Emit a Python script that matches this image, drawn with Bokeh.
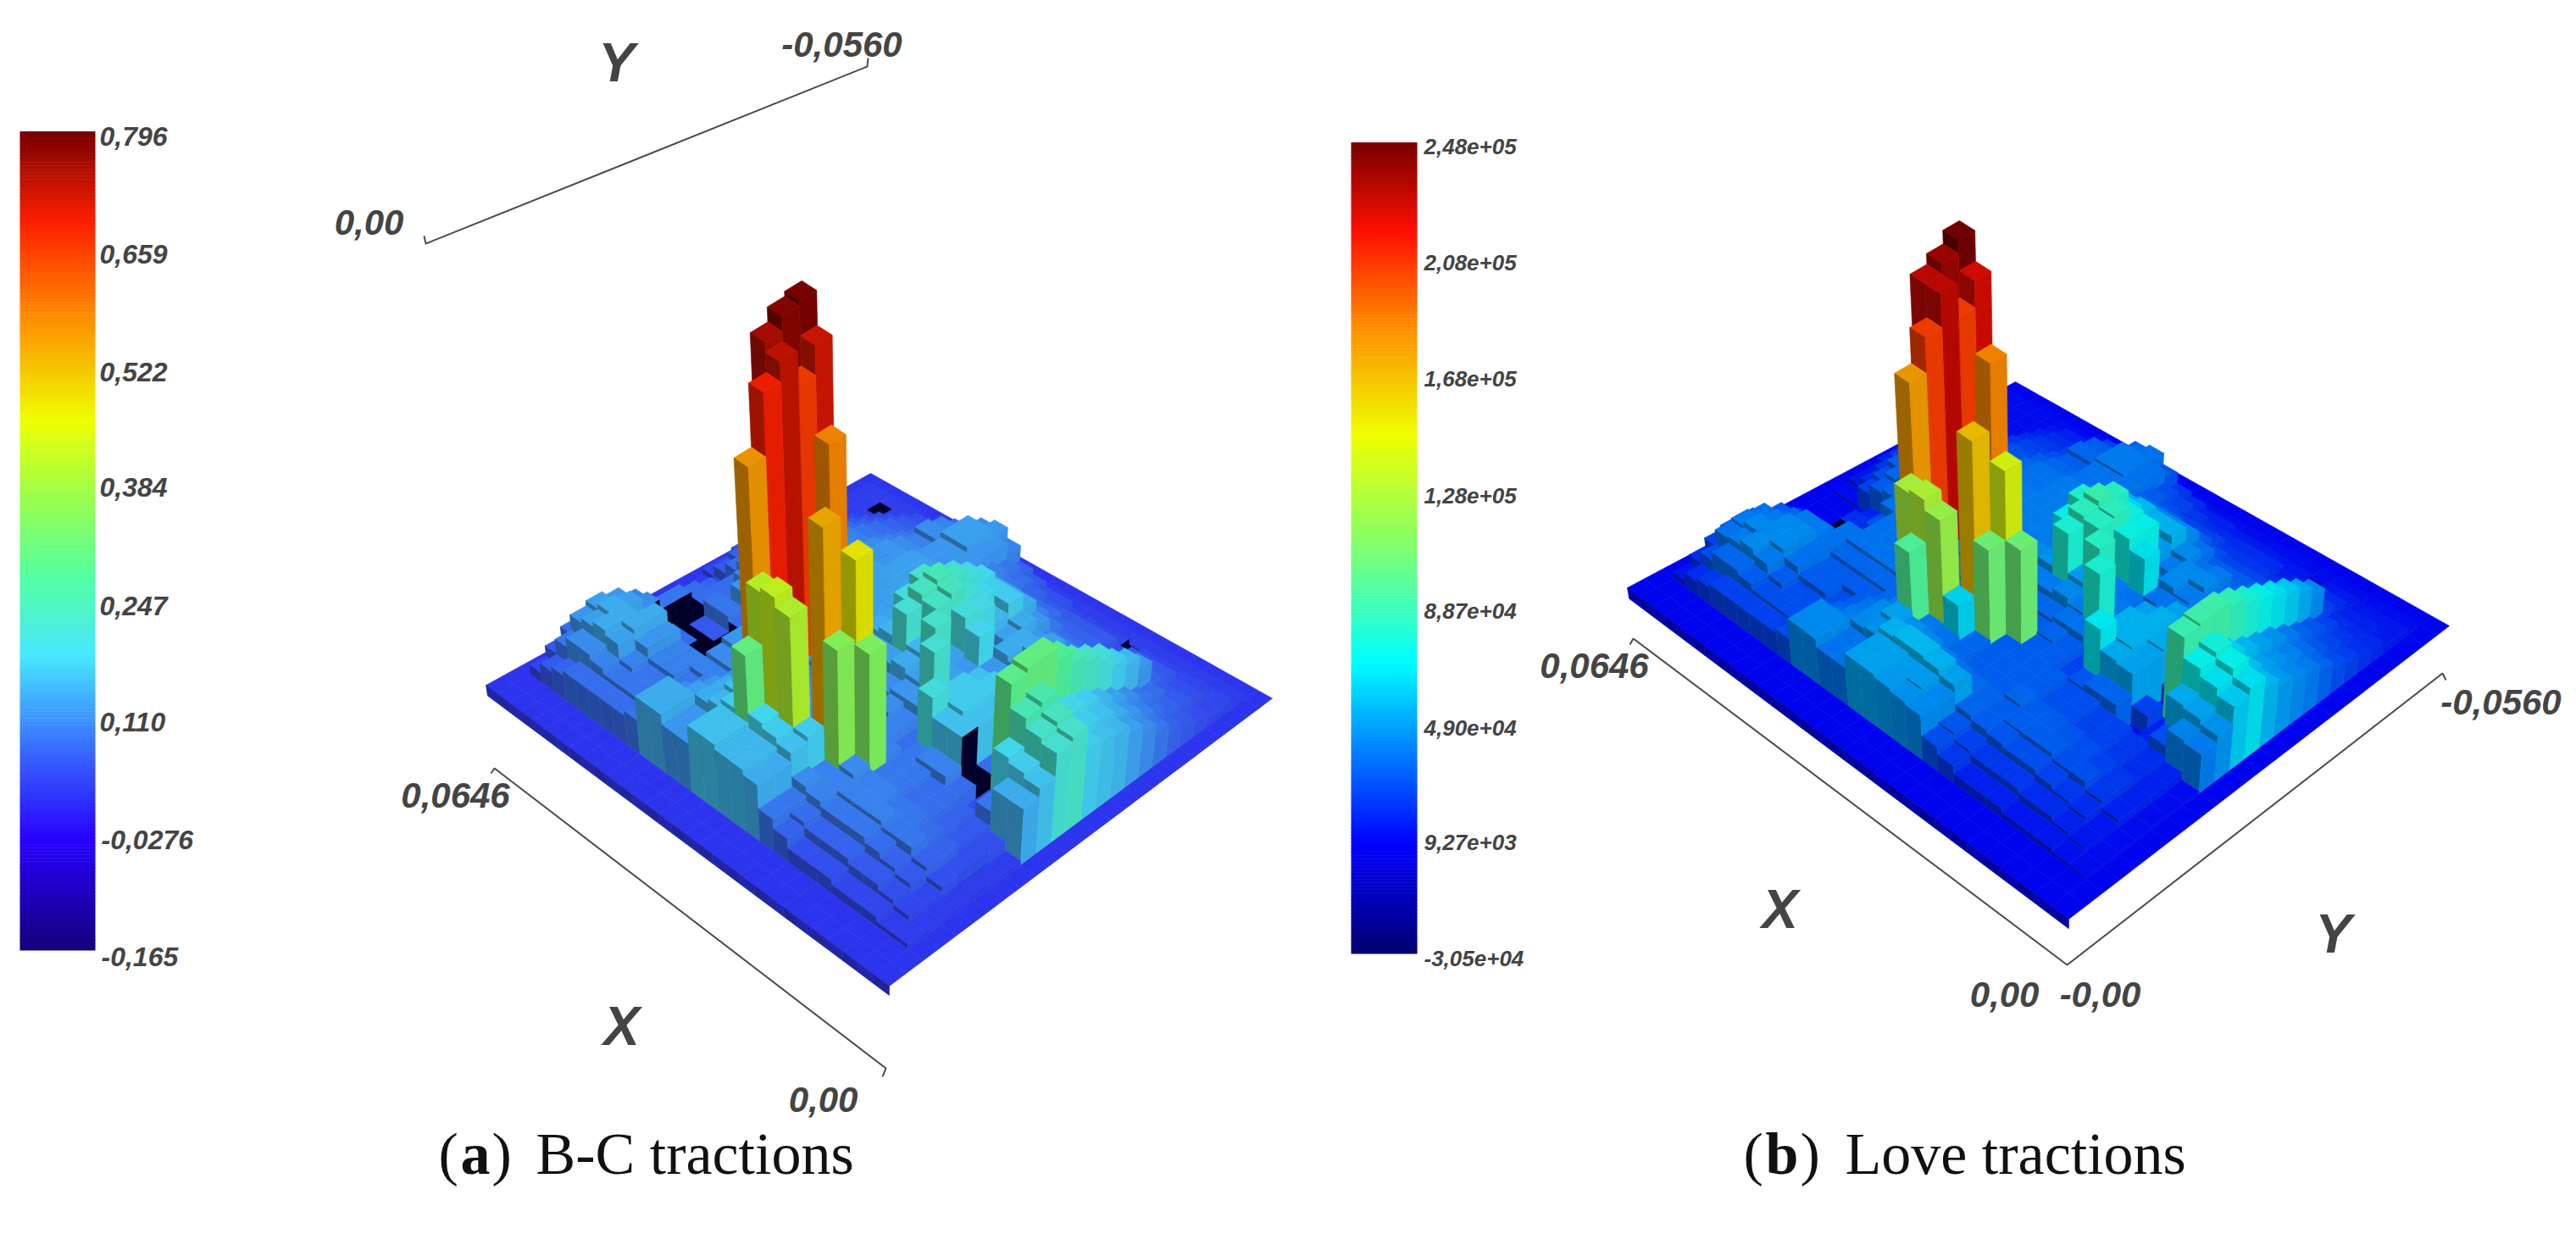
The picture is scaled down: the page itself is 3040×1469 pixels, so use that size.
from bokeh.plotting import figure
from bokeh.embed import file_html
from bokeh.resources import INLINE
from bokeh.core.properties import value

# ---------- data: B-C tractions in hundredths; rows = X cells, columns = Y cells (0-8 / 9-25)
bc_left = [
[2,2,2,2,2,2,2,2,2],[2,2,3,3,3,3,3,3,3],[2,2,3,4,4,5,5,5,5],[2,2,4,5,6,7,7,6,6],[2,2,4,6,7,9,8,7,7],
[2,2,4,6,8,9,9,8,8],[2,2,5,7,9,10,9,8,8],[2,2,5,7,9,10,10,9,9],[2,2,5,7,9,10,10,9,9],[2,2,7,8,10,10,11,10,10],
[2,2,9,9,11,10,10,10,10],[2,2,14,14,16,11,10,10,10],[2,2,15,15,17,12,10,10,10],[2,2,15,15,18,13,11,11,11],[2,2,16,16,18,14,12,12,11],
[2,2,16,16,17,15,13,12,11],[2,2,12,12,15,16,14,12,12],[2,2,12,12,14,14,13,12,11],[2,2,14,14,13,12,11,11,11],[2,2,14,14,11,10,10,11,12],
[2,2,9,9,9,9,10,11,12],[2,2,8,9,9,10,10,7,7],[2,2,8,9,9,10,10,-16,-16],[2,2,8,9,10,12,12,8,-16],[2,2,8,10,13,14,14,8,-16],
[2,2,8,11,14,14,10,-16,-16],[2,2,7,11,13,14,13,11,9],[2,2,6,9,12,13,12,10,7],[2,2,4,6,8,9,9,7,5],[2,2,2,2,2,2,2,2,2],
]
bc_right = [
[2,2,2,2,2,2,2,2,2,2,2,2,2,2,2,2,2],
[14,16,21,22,17,16,15,13,11,9,7,6,5,4,4,3,2],
[14,17,22,23,18,17,16,14,12,10,8,7,6,5,4,3,2],
[9,18,24,25,20,18,17,15,13,11,9,8,6,5,4,3,2],
[5,5,29,30,30,27,24,22,20,17,15,12,7,6,4,3,2],
[8,-16,8,8,9,12,15,15,14,12,10,8,7,6,4,3,2],
[10,16,16,16,16,16,12,13,13,12,10,8,7,6,4,3,2],
[10,16,17,17,17,16,13,13,13,11,10,8,6,5,-16,3,2],
[9,20,17,17,16,13,12,13,14,13,10,8,7,6,4,3,2],
[8,8,9,8,9,11,12,14,14,12,10,8,7,6,4,3,2],
[10,10,12,21,13,12,18,11,13,14,12,9,7,6,4,3,2],
[10,11,12,13,22,13,20,19,15,17,14,10,8,6,4,3,2],
[10,10,11,14,15,22,23,20,18,17,14,10,8,6,5,3,2],
[10,10,11,13,21,23,24,22,20,18,14,11,8,7,5,3,2],
[10,10,12,13,15,20,22,20,19,17,14,11,9,8,6,3,2],
[10,11,12,13,14,13,16,17,17,15,13,11,10,9,7,3,2],
[10,11,12,13,13,13,13,13,13,13,12,12,12,12,10,3,2],
[11,12,13,13,13,13,13,13,13,13,12,12,13,13,12,3,2],
[12,12,13,13,13,13,13,13,13,13,12,12,13,13,11,3,2],
[12,12,13,13,13,13,13,13,12,12,11,10,11,10,8,3,2],
[12,12,13,13,13,13,13,13,12,12,11,10,11,10,8,3,2],
[7,9,13,13,12,12,12,12,12,11,10,9,8,7,6,3,2],
[-16,8,12,12,12,12,12,11,11,10,9,8,7,6,5,3,2],
[6,9,12,12,12,12,12,11,11,10,9,8,7,6,5,3,2],
[6,9,8,11,12,12,11,11,10,9,8,7,6,5,4,3,2],
[-16,8,8,8,10,11,11,10,9,8,7,6,5,4,3,3,2],
[9,8,7,5,8,9,10,9,8,7,6,5,4,3,-16,3,2],
[4,3,3,4,6,7,8,8,7,6,5,4,3,3,3,3,2],
[3,2,2,3,4,4,5,5,5,4,4,3,3,3,3,3,2],
[2,2,2,2,2,2,2,2,2,2,2,2,2,2,2,2,2],
]
# Love tractions in thousands
love_left = [
[8,8,8,8,8,8,8,8,8],[8,8,10,10,10,10,10,10,10],[8,8,11,13,13,16,16,16,16],[8,8,13,16,19,22,22,19,19],[8,8,13,19,22,28,25,22,22],
[8,8,13,19,25,28,28,25,25],[8,8,16,22,28,32,30,25,25],[8,8,16,22,28,32,32,28,28],[8,8,16,22,30,32,32,28,28],[8,8,22,25,32,32,35,32,32],
[8,8,28,30,35,34,32,32,32],[8,8,44,44,50,36,32,32,32],[8,8,46,48,54,38,32,32,32],[8,8,48,48,56,40,35,35,35],[8,8,50,50,56,44,38,38,35],
[8,8,50,50,54,46,40,38,35],[8,8,38,38,46,50,44,38,38],[8,8,38,38,44,44,40,38,35],[8,8,44,44,40,38,35,35,35],[8,8,44,44,35,32,32,35,38],
[8,8,28,28,28,28,32,35,38],[8,8,25,28,28,32,32,35,38],[8,8,25,28,28,32,32,35,38],[8,8,25,28,32,38,38,38,38],[8,8,25,32,40,44,44,40,25],
[8,8,25,35,44,44,44,40,25],[8,8,22,35,40,44,40,35,-30],[8,8,19,28,38,40,38,32,22],[8,8,13,19,25,28,28,22,16],[8,8,8,8,8,8,8,8,8],
]
love_right = [
[8,8,8,8,8,8,8,8,8,8,8,8,8,8,8,8,8],
[40,46,60,66,55,48,44,40,34,28,24,20,18,14,13,10,8],
[42,50,66,72,58,50,46,42,36,30,26,22,18,16,13,10,8],
[28,52,72,76,62,55,50,46,40,34,30,25,19,16,13,10,8],
[16,16,88,90,90,85,78,72,66,60,52,44,24,19,14,10,8],
[10,25,12,25,30,38,46,46,44,38,32,26,22,19,14,10,8],
[34,50,50,52,52,50,38,40,40,38,32,26,22,16,8,10,8],
[34,52,54,54,54,50,40,40,40,35,32,26,20,16,13,10,8],
[30,68,54,54,50,40,38,40,44,40,32,26,22,19,13,10,8],
[25,25,30,25,30,35,38,44,44,38,32,26,22,19,14,10,8],
[32,32,38,78,40,38,66,35,40,44,38,28,22,19,14,10,8],
[32,34,38,40,82,40,74,72,48,54,44,32,25,19,14,10,8],
[32,32,35,44,48,82,84,74,56,54,44,32,25,19,16,10,8],
[32,32,35,40,78,84,88,82,64,56,44,34,25,22,16,10,8],
[32,32,38,40,46,72,80,72,60,54,44,34,28,25,19,10,8],
[32,34,38,40,44,40,50,54,54,46,40,34,32,28,22,10,8],
[32,34,38,40,40,40,40,40,40,40,38,38,38,38,30,10,8],
[35,38,40,40,40,40,40,40,40,40,38,38,40,40,38,10,8],
[38,38,40,40,40,40,40,40,40,40,38,38,40,40,35,10,8],
[38,38,40,40,40,40,40,40,38,38,35,32,35,32,25,10,8],
[38,38,40,40,40,40,40,40,38,38,35,32,35,32,25,10,8],
[38,38,40,40,38,38,38,38,38,35,32,28,25,22,19,10,8],
[38,38,38,38,38,38,38,35,35,32,28,25,22,19,16,10,8],
[20,30,38,38,38,38,38,35,35,32,28,25,22,19,16,10,8],
[-30,20,20,35,38,38,35,35,32,28,25,22,19,16,13,10,8],
[-30,20,16,32,35,35,32,28,25,22,19,16,13,10,10,10,8],
[-30,-30,10,25,28,32,28,25,22,19,16,13,10,10,10,10,8],
[10,8,8,10,19,22,25,25,22,19,16,13,10,10,10,10,8],
[8,8,8,10,13,13,16,16,16,13,13,10,10,10,10,10,8],
[8,8,8,8,8,8,8,8,8,8,8,8,8,8,8,8,8],
]
# the tall central columns (cell indices and values)
bc_tall_i = [18,18,18,17,17,17,17,15,17,12,11,14,13,12,10,9,14,11]
bc_tall_j = [11,10,9,11,9,8,10,10,7,7,8,5,5,5,6,7,4,5]
bc_tall_v = [79,78,75,72,73,69,66,58,56,54,47,41,42,40,35,34,30,17]
love_tall_i = [20,20,20,19,19,19,19,17,19,15,14,17,16,15,13,12,16,14]
love_tall_j = [13,12,11,13,11,10,12,12,9,9,10,7,7,7,8,9,6,7]
love_tall_v = [248,238,230,225,230,205,205,185,178,165,142,125,128,120,105,105,95,62]

bc_ticks = ["0,796","0,659","0,522","0,384","0,247","0,110","-0,0276","-0,165"]
love_ticks = ["2,48e+05","2,08e+05","1,68e+05","1,28e+05","8,87e+04","4,90e+04","9,27e+03","-3,05e+04"]

bc_stops = [(0,"#14007a"),(.134,"#2800ff"),(.25,"#3a70ff"),(.36,"#48e8ff"),(.45,"#50ffa8"),(.55,"#98ff50"),(.648,"#f0ff00"),(.77,"#ff9000"),(.889,"#ff2000"),(1,"#780000")]
love_stops = [(0,"#000070"),(.134,"#0000ff"),(.25,"#0080ff"),(.36,"#00ffff"),(.5,"#80ff70"),(.64,"#f0ff00"),(.77,"#ff9000"),(.89,"#ff1000"),(1,"#780000")]

def rgb(h): return [int(h[k:k+2],16) for k in (1,3,5)]
def cmap(stops, f):
    f = max(0,min(1,f))
    for (a,ca),(b,cb) in zip(stops,stops[1:]):
        if f<=b:
            t=(f-a)/(b-a); A,B=rgb(ca),rgb(cb)
            return [A[k]+(B[k]-A[k])*t for k in range(3)]
    return rgb(stops[-1][1])
def shade(c,k): return "#%02x%02x%02x"%tuple(int(min(255,x*k)) for x in c)

def homography(B,L,R,T):
    dx1,dx2,sx=L[0]-T[0],R[0]-T[0],B[0]-L[0]-R[0]+T[0]
    dy1,dy2,sy=L[1]-T[1],R[1]-T[1],B[1]-L[1]-R[1]+T[1]
    den=dx1*dy2-dx2*dy1
    g=(sx*dy2-dx2*sy)/den; h=(dx1*sy-sx*dy1)/den
    a,b,c=L[0]-B[0]+g*L[0],R[0]-B[0]+h*R[0],B[0]
    d,e,f=L[1]-B[1]+g*L[1],R[1]-B[1]+h*R[1],B[1]
    def P(s,t):
        w=g*s+h*t+1
        return (a*s+b*t+c)/w,(d*s+e*t+f)/w
    return P

def bars(left,right,ti,tj,tv,corners,nadir,D,scale,v0,vmin,vmax,stops,div,skirt):
    grid=[a+b for a,b in zip(left,right)]
    for i,j,v in zip(ti,tj,tv): grid[i][j]=v
    N,M=len(grid),len(grid[0])
    P=homography(*corners)
    def pt(i,j,z):
        x,y=P(i/N,j/M)
        return x+(x-nadir[0])*z/D, y+(y-nadir[1])*z/D
    def Z(i,j):
        if j<0: return -skirt
        if i<0: return 0
        return (grid[i][j]*div-v0)*scale
    def is_pit(i,j):
        return i>=0 and j>=0 and grid[i][j]*div < vmin+(vmax-vmin)*.05
    xs,ys,cols=[],[],[]
    def poly(ps,col):
        xs.append([p[0] for p in ps]); ys.append([p[1] for p in ps]); cols.append(col)
    for i in range(N-1,-1,-1):
        for j in range(M-1,-1,-1):
            v=grid[i][j]*div
            c=cmap(stops,(v-vmin)/(vmax-vmin))
            z=Z(i,j)
            poly([pt(i,j,z),pt(i+1,j,z),pt(i+1,j+1,z),pt(i,j+1,z)],"#000028" if is_pit(i,j) else shade(c,.93))
            for (n,pit,a,b,k) in ((Z(i,j-1),is_pit(i,j-1),(i,j),(i+1,j),.62+.05*(i%2)*(j==0)),
                                  (Z(i-1,j),is_pit(i-1,j),(i,j),(i,j+1),.9)):
                if z>n:
                    poly([pt(*a,n),pt(*b,n),pt(*b,z),pt(*a,z)],"#000028" if pit else shade(c,k))
    return xs,ys,cols

W,H=3024,1453
p=figure(width=W,height=H,x_range=(0,W),y_range=(H,0),output_backend="svg",toolbar_location=None,min_border=0)
p.axis.visible=False; p.grid.visible=False; p.outline_line_color=None

for left,right,ti,tj,tv,corners,nadir,D,scale,v0,vmin,vmax,stops,div in (
    (bc_left,bc_right,bc_tall_i,bc_tall_j,bc_tall_v,((1049,1163),(573,808),(1501,823.5),(1027,558)),(1030,3800),2900,570,.02,-.165,.796,bc_stops,.01),
    (love_left,love_right,love_tall_i,love_tall_j,love_tall_v,((2441,1084),(1920,693),(2890,738),(2378,450)),(2400,3600),2700,1.45,8,-30.5,248,love_stops,1),
):
    xs,ys,cols=bars(left,right,ti,tj,tv,corners,nadir,D,scale,v0,vmin,vmax,stops,div,12)
    p.patches(xs,ys,fill_color=cols,line_color=cols,line_width=.6)

# colour bars
for x0,x1,y0,y1,stops in ((23,112,155,1121,bc_stops),(1594,1672,168,1125,love_stops)):
    n=240; ts=[k/n for k in range(n)]
    p.quad(left=x0,right=x1,
           top=[y1-(y1-y0)*(t+1/n)-.6 for t in ts],bottom=[y1-(y1-y0)*t for t in ts],
           fill_color=[shade(cmap(stops,t+.5/n),1) for t in ts],line_color=None)

def label(xs,ys,txt,size,align="center",style="bold italic",color="#444444",font="Liberation Sans"):
    p.text(xs,ys,text=txt,text_font=value(font),text_font_size=f"{size}px",
           text_font_style=style,text_color=color,text_align=align,text_baseline="middle")

label([117]*6+[119,119],[160,299,438,574,714,851,990,1128],bc_ticks,32,align="left")
label([1680]*8,[172,309,446,584,720,858,993,1130],love_ticks,26,align="left")

# axis lines
for xs,ys in (([500,502,1023,1024],[278,287,78,68]),([579,583,1045,1041],[912,906,1260,1270]),
              ([1923,1927,2439,2882,2886],[760,753,1138,794,802])):
    p.line(xs,ys,line_color="#4a4a4a",line_width=2)
label([435,993,537,971,1881,2951,2365,2478],[262,52,938,1297,785,828,1173,1173],
      ["0,00","-0,0560","0,0646","0,00","0,0646","-0,0560","0,00","-0,00"],42)
label([727,733,2100,2753],[73,1210,1072,1101],["Y","X","X","Y"],64)

# captions
serif="Liberation Serif"
for x,t,st in ((517,"(","normal"),(543,"a","bold"),(580,")","normal"),(632,"B-C tractions","normal"),
               (2057,"(","normal"),(2083,"b","bold"),(2124,")","normal"),(2177,"Love tractions","normal")):
    label([x],[1361],[t],70,align="left",style=st,color="#111111",font=serif)

open("out.html","w").write(file_html(p,INLINE))
